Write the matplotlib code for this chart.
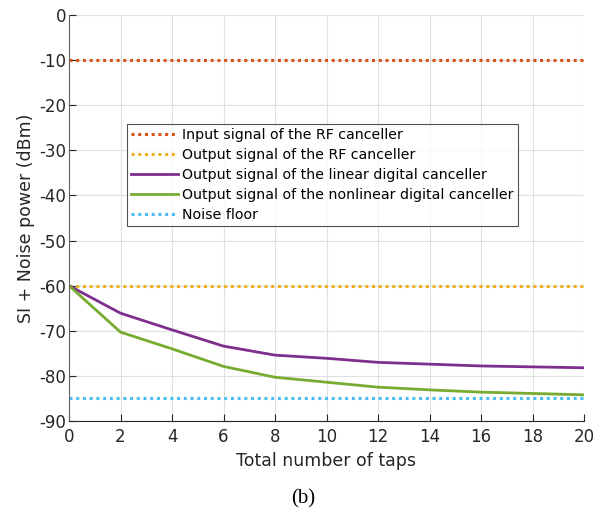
import matplotlib
matplotlib.use("Agg")
import matplotlib.pyplot as plt
import numpy as np

taps = [0, 2, 4, 6, 8, 10, 12, 14, 16, 18, 20]
input_rf = [-10] * len(taps)
output_rf = [-60] * len(taps)
linear_dig = [-60, -66.1, -69.8, -73.4, -75.4, -76.1, -77.0, -77.4, -77.8, -78.0, -78.2]
nonlinear_dig = [-60, -70.3, -74.0, -77.9, -80.3, -81.4, -82.5, -83.1, -83.6, -83.9, -84.2]
noise_floor = [-84.8] * len(taps)

labels = ["Input signal of the RF canceller",
          "Output signal of the RF canceller",
          "Output signal of the linear digital canceller",
          "Output signal of the nonlinear digital canceller",
          "Noise floor"]
xticks = list(range(0, 21, 2))
yticks = list(range(-90, 1, 10))

plt.rcParams['font.family'] = ['DejaVu Sans']
plt.rcParams['axes.unicode_minus'] = False
fig = plt.figure(figsize=(6.07, 5.16), dpi=100)
ax = fig.add_axes([69/607, 1-421/516, (584-69)/607, (421-15)/516])

dot = (0, (1, 1.2))
ax.plot(taps, input_rf, color='#D95319', lw=2.2, linestyle=dot, label=labels[0])
ax.plot(taps, output_rf, color='#EDB120', lw=2.2, linestyle=dot, label=labels[1])
ax.plot(taps, linear_dig, color='#7E2F8E', lw=2.0, label=labels[2])
ax.plot(taps, nonlinear_dig, color='#77AC30', lw=2.0, label=labels[3])
ax.plot(taps, noise_floor, color='#4DBEEE', lw=2.2, linestyle=dot, label=labels[4])

ax.set_xlim(0, 20)
ax.set_ylim(-90, 0)
ax.set_xticks(xticks)
ax.set_yticks(yticks)
ax.grid(True, color='#E0E0E0', lw=0.8)
ax.set_axisbelow(True)
for s in ['top', 'right']:
    ax.spines[s].set_visible(False)
ax.spines['left'].set_color('#606060')
ax.spines['bottom'].set_color('#262626')
ax.tick_params(axis='y', direction='in', labelsize=12, colors='#262626', length=5, pad=2)
ax.tick_params(axis='x', direction='in', labelsize=12, colors='#262626', length=5, pad=5)
ax.set_xlabel("Total number of taps", fontsize=12.5, color='#262626', labelpad=4)
ax.set_ylabel("SI + Noise power (dBm)", fontsize=12.5, color='#262626', labelpad=3)

leg = ax.legend(loc='upper left', bbox_to_anchor=((127-69)/515, 1-(124-15)/406),
                fontsize=10.2, frameon=True, fancybox=False, handlelength=3.3,
                handletextpad=0.3, labelspacing=0.42, borderpad=0.3, borderaxespad=0)
leg.get_frame().set_edgecolor('#262626')
leg.get_frame().set_linewidth(0.8)

fig.text(0.5, 1-499/516, "(b)", ha='center', va='center', fontsize=15,
         family='Liberation Serif')

fig.savefig("out.png", dpi=100)
